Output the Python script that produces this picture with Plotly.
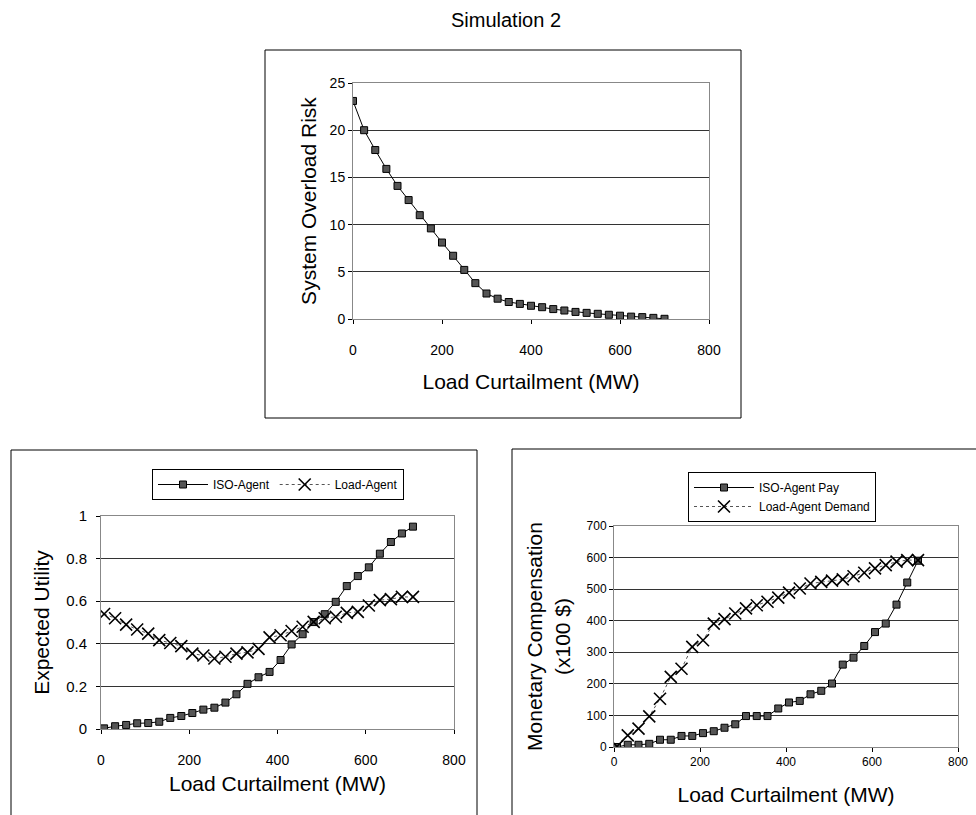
import plotly.graph_objects as go

W, H = 976, 815

# ---------------- data ----------------
x_top = [0, 25, 50, 75, 100, 125, 150, 175, 200, 225, 250, 275, 300, 325, 350,
         375, 400, 425, 450, 475, 500, 525, 550, 575, 600, 625, 650, 675, 700]
risk = [23.1, 20.0, 17.9, 15.9, 14.1, 12.6, 11.0, 9.6, 8.1, 6.7, 5.2, 3.8, 2.7,
        2.15, 1.8, 1.6, 1.4, 1.25, 1.05, 0.9, 0.75, 0.65, 0.55, 0.45, 0.35,
        0.25, 0.2, 0.12, 0.02]

x_bot = [7, 32, 57, 82, 107, 132, 157, 182, 207, 232, 257, 282, 307, 332, 357,
         382, 407, 432, 457, 482, 507, 532, 557, 582, 607, 632, 657, 682, 707]
iso_util = [0.003, 0.013, 0.019, 0.027, 0.028, 0.034, 0.052, 0.061, 0.075, 0.091,
            0.100, 0.124, 0.163, 0.212, 0.243, 0.268, 0.324, 0.397, 0.445, 0.502,
            0.539, 0.597, 0.671, 0.718, 0.759, 0.823, 0.878, 0.918, 0.950]
load_util = [0.54, 0.52, 0.49, 0.467, 0.448, 0.417, 0.404, 0.389, 0.354, 0.345,
             0.331, 0.339, 0.354, 0.36, 0.376, 0.43, 0.44, 0.46, 0.48, 0.503,
             0.52, 0.527, 0.545, 0.55, 0.58, 0.605, 0.61, 0.62, 0.62]

iso_pay = [0, 7, 7, 10, 23, 23, 35, 35, 44, 50, 61, 72, 98, 98, 98, 122, 141, 146,
           167, 178, 201, 261, 283, 320, 364, 391, 451, 521, 590]
load_demand = [2, 37, 58, 97, 153, 222, 248, 317, 338, 391, 405, 423, 439, 449,
               460, 473, 489, 502, 518, 523, 527, 531, 541, 552, 566, 576, 587,
               592, 592]

x_ticks = [0, 200, 400, 600, 800]
util_ticks = [0, 0.2, 0.4, 0.6, 0.8, 1.0]
util_labels = ["0", "0.2", "0.4", "0.6", "0.8", "1"]

FONT = "Liberation Sans, Arial, sans-serif"
TITLE_SIZE = 21


def px_x(p):
    return p / W


def px_y(p):
    return 1 - p / H


fig = go.Figure()

sq = dict(symbol="square", size=7, color="#555555", line=dict(color="black", width=1))
xm = dict(symbol="x-thin", size=12, color="black", line=dict(color="black", width=1.6))

fig.add_trace(go.Scatter(x=x_top, y=risk, mode="lines+markers", xaxis="x", yaxis="y",
                         line=dict(color="black", width=1), marker=sq, showlegend=False))

fig.add_trace(go.Scatter(x=x_bot, y=iso_util, mode="lines+markers", name="ISO-Agent",
                         xaxis="x2", yaxis="y2", legend="legend",
                         line=dict(color="black", width=1), marker=sq))
fig.add_trace(go.Scatter(x=x_bot, y=load_util, mode="lines+markers", name="Load-Agent",
                         xaxis="x2", yaxis="y2", legend="legend",
                         line=dict(color="#555555", width=1, dash="dot"), marker=xm))

fig.add_trace(go.Scatter(x=x_bot, y=iso_pay, mode="lines+markers", name="ISO-Agent Pay",
                         xaxis="x3", yaxis="y3", legend="legend2",
                         line=dict(color="black", width=1), marker=sq))
fig.add_trace(go.Scatter(x=x_bot, y=load_demand, mode="lines+markers",
                         name="Load-Agent Demand", xaxis="x3", yaxis="y3", legend="legend2",
                         line=dict(color="#555555", width=1, dash="dot"), marker=xm))


def ax(size, **kw):
    d = dict(showline=True, mirror=True, linecolor="#888888", linewidth=1,
             ticks="outside", ticklen=4, tickcolor="black",
             tickfont=dict(family=FONT, size=size, color="black"),
             zeroline=False, automargin=False)
    d.update(kw)
    return d


fig.update_layout(
    width=W, height=H,
    margin=dict(l=0, r=0, t=0, b=0, autoexpand=False),
    paper_bgcolor="white", plot_bgcolor="white",
    font=dict(family=FONT, color="black"),
    title=dict(text="Simulation 2", x=506 / W, xanchor="center", y=px_y(20),
               yanchor="middle", font=dict(family=FONT, size=20, color="black")),
    xaxis=ax(14, domain=[px_x(353), px_x(709)], range=[0, 800], tickvals=x_ticks,
             anchor="y", showgrid=False, ticklabelstandoff=14,
             title=dict(text="Load Curtailment (MW)", font=dict(size=TITLE_SIZE),
                        standoff=17)),
    yaxis=ax(14, domain=[px_y(319), px_y(83)], range=[0, 25], dtick=5, anchor="x",
             showgrid=True, gridcolor="#333333", gridwidth=1,
             title=dict(text="System Overload Risk", font=dict(size=TITLE_SIZE),
                        standoff=7)),
    xaxis2=ax(14, domain=[px_x(101), px_x(454)], range=[0, 800], tickvals=x_ticks,
              anchor="y2", showgrid=False, ticklabelstandoff=14,
              title=dict(text="Load Curtailment (MW)", font=dict(size=TITLE_SIZE),
                         standoff=9)),
    yaxis2=ax(15, domain=[px_y(729), px_y(516)], range=[0, 1], anchor="x2",
              showgrid=True, gridcolor="#333333", gridwidth=1,
              tickvals=util_ticks, ticktext=util_labels, ticklabelstandoff=6,
              title=dict(text="Expected Utility", font=dict(size=TITLE_SIZE), standoff=10)),
    xaxis3=ax(12, domain=[px_x(614), px_x(958)], range=[0, 800], tickvals=x_ticks,
              anchor="y3", showgrid=False,
              title=dict(text="Load Curtailment (MW)", font=dict(size=TITLE_SIZE),
                         standoff=18)),
    yaxis3=ax(12, domain=[px_y(747), px_y(526)], range=[0, 700], dtick=100, anchor="x3",
              showgrid=True, gridcolor="#333333", gridwidth=1,
              title=dict(text="Monetary Compensation<br>(x100 $)",
                         font=dict(size=TITLE_SIZE), standoff=10)),
    legend=dict(x=px_x(152), y=px_y(469), xanchor="left", yanchor="top",
                orientation="h", bgcolor="white", bordercolor="black", borderwidth=1,
                font=dict(family=FONT, size=12, color="black"),
                itemwidth=50, tracegroupgap=0),
    legend2=dict(x=px_x(688), y=px_y(472), xanchor="left", yanchor="top",
                 orientation="v", bgcolor="white", bordercolor="black", borderwidth=1,
                 font=dict(family=FONT, size=12, color="black"),
                 itemwidth=60, tracegroupgap=0),
)

# outer chart frames
for (x0, y0, x1, y1) in [(265, 50, 741, 418), (11, 450, 477, 820), (512, 449, 980, 820)]:
    fig.add_shape(type="rect", xref="paper", yref="paper",
                  x0=px_x(x0), x1=px_x(x1), y0=px_y(y1), y1=px_y(y0),
                  line=dict(color="black", width=1), fillcolor="rgba(0,0,0,0)")

fig.write_html(
    "out.html",
    config={"displayModeBar": False},
    post_script=(
        "document.documentElement.style.margin='0';"
        "document.body.style.margin='0';"
        "document.body.style.overflow='hidden';"
        "var d=document.getElementById('{plot_id}');"
        "d.style.position='fixed';d.style.left='0px';d.style.top='0px';"
    ),
)
